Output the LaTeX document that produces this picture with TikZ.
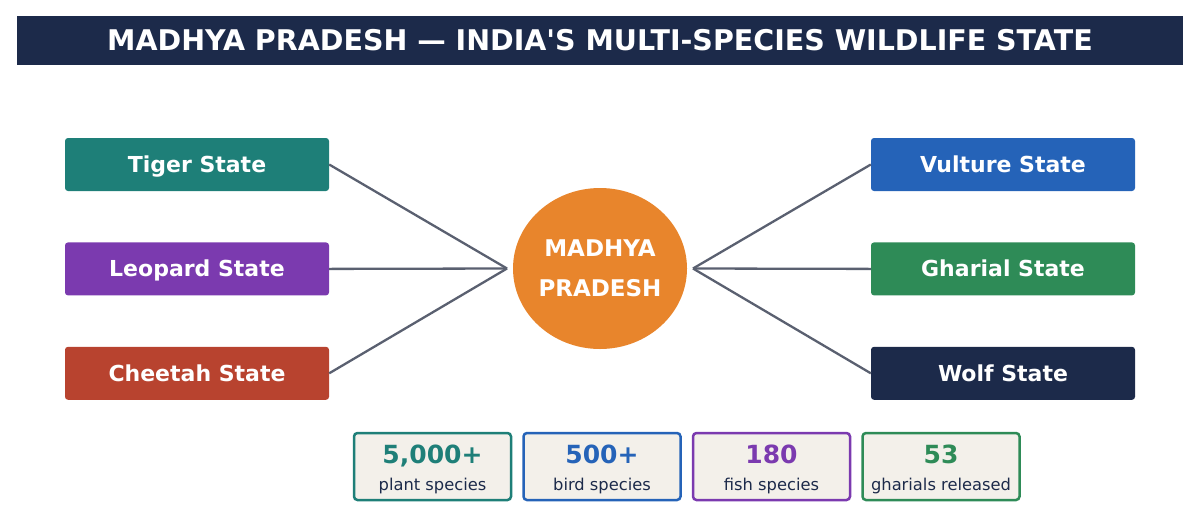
\documentclass[tikz,border=0pt]{standalone}
\usepackage{fontspec}
\setmainfont{DejaVu Sans}
\newfontfamily\plainfont{DejaVu Sans}
\usetikzlibrary{positioning, shapes.geometric}
\definecolor{navy}{HTML}{1C2A4A}
\definecolor{teal}{HTML}{1E7F78}
\definecolor{grape}{HTML}{7B3AAF}
\definecolor{brick}{HTML}{B8432F}
\definecolor{royal}{HTML}{2563B8}
\definecolor{leaf}{HTML}{2E8B57}
\definecolor{amber}{HTML}{E8852C}
\definecolor{wire}{HTML}{5A6070}
\definecolor{paper}{HTML}{F3F0EA}

\tikzset{
    statebox/.style={
        fill=#1, rounded corners=3pt,
        minimum width=264pt, minimum height=53pt,
        text height=16pt, text depth=0pt,
        text=white, font=\fontsize{22}{26}\selectfont\bfseries
    },
    statbox/.style={
        draw=#1, fill=paper, line width=2.5pt, rounded corners=3.5pt,
        minimum width=157pt, minimum height=67pt, inner sep=0pt
    },
    link/.style={wire, line width=2.3pt}
}

\begin{document}
\begin{tikzpicture}[x=1pt, y=-1pt]
    \useasboundingbox (0,0) rectangle (1200,528);

    % titel
    \node [fill=navy,
        minimum width=1166pt, minimum height=49pt,
        text=white, font=\plainfont\fontsize{28.5}{32}\selectfont\bfseries
    ] (title) at (600,40.5) {MADHYA PRADESH — INDIA'S MULTI-SPECIES WILDLIFE STATE};

    % hub
    \node [ellipse, fill=amber, inner sep=0pt,
        minimum width=174pt, minimum height=161pt,
        align=center, text=white,
        font=\fontsize{23}{40}\selectfont\bfseries
    ] (mp) at (600,268.5) {MADHYA\\PRADESH};
    \coordinate (hubL) at (507,268.5);
    \coordinate (hubR) at (693,268.5);

    % left column
    \node [statebox=teal] (tiger) at (197,164.5) {Tiger State};
    \node [statebox=grape, below=51pt of tiger] (leopard) {Leopard State};
    \node [statebox=brick, below=51pt of leopard] (cheetah) {Cheetah State};

    % right column
    \node [statebox=royal] (vulture) at (1003,164.5) {Vulture State};
    \node [statebox=leaf, below=51pt of vulture] (gharial) {Gharial State};
    \node [statebox=navy, below=51pt of gharial] (wolf) {Wolf State};

    % spokes
    \draw [link] (tiger.east) -- (hubL);
    \draw [link] (leopard.east) -- (hubL);
    \draw [link] (cheetah.east) -- (hubL);
    \draw [link] (vulture.west) -- (hubR);
    \draw [link] (gharial.west) -- (hubR);
    \draw [link] (wolf.west) -- (hubR);

    % numbers
    \node [statbox=teal] (plants) at (432.5,466.5) {};
    \node [statbox=royal, right=10pt of plants] (birds) {};
    \node [statbox=grape, right=10pt of birds] (fish) {};
    \node [statbox=leaf, right=10pt of fish] (released) {};
    \foreach \stat/\col/\num/\what in {plants/teal/{5,000+}/plant species,
        birds/royal/500+/bird species, fish/grape/180/fish species,
        released/leaf/53/gharials released} {
        \node [anchor=base, text=\col, font=\fontsize{25}{29}\selectfont\bfseries]
            (\stat-num) at ([yshift=3.5pt]\stat.center) {\num};
        \node [anchor=base, text=navy, font=\fontsize{16.3}{20}\selectfont]
            (\stat-what) at ([yshift=-23.5pt]\stat.center) {\what};
    }
\end{tikzpicture}
\end{document}
